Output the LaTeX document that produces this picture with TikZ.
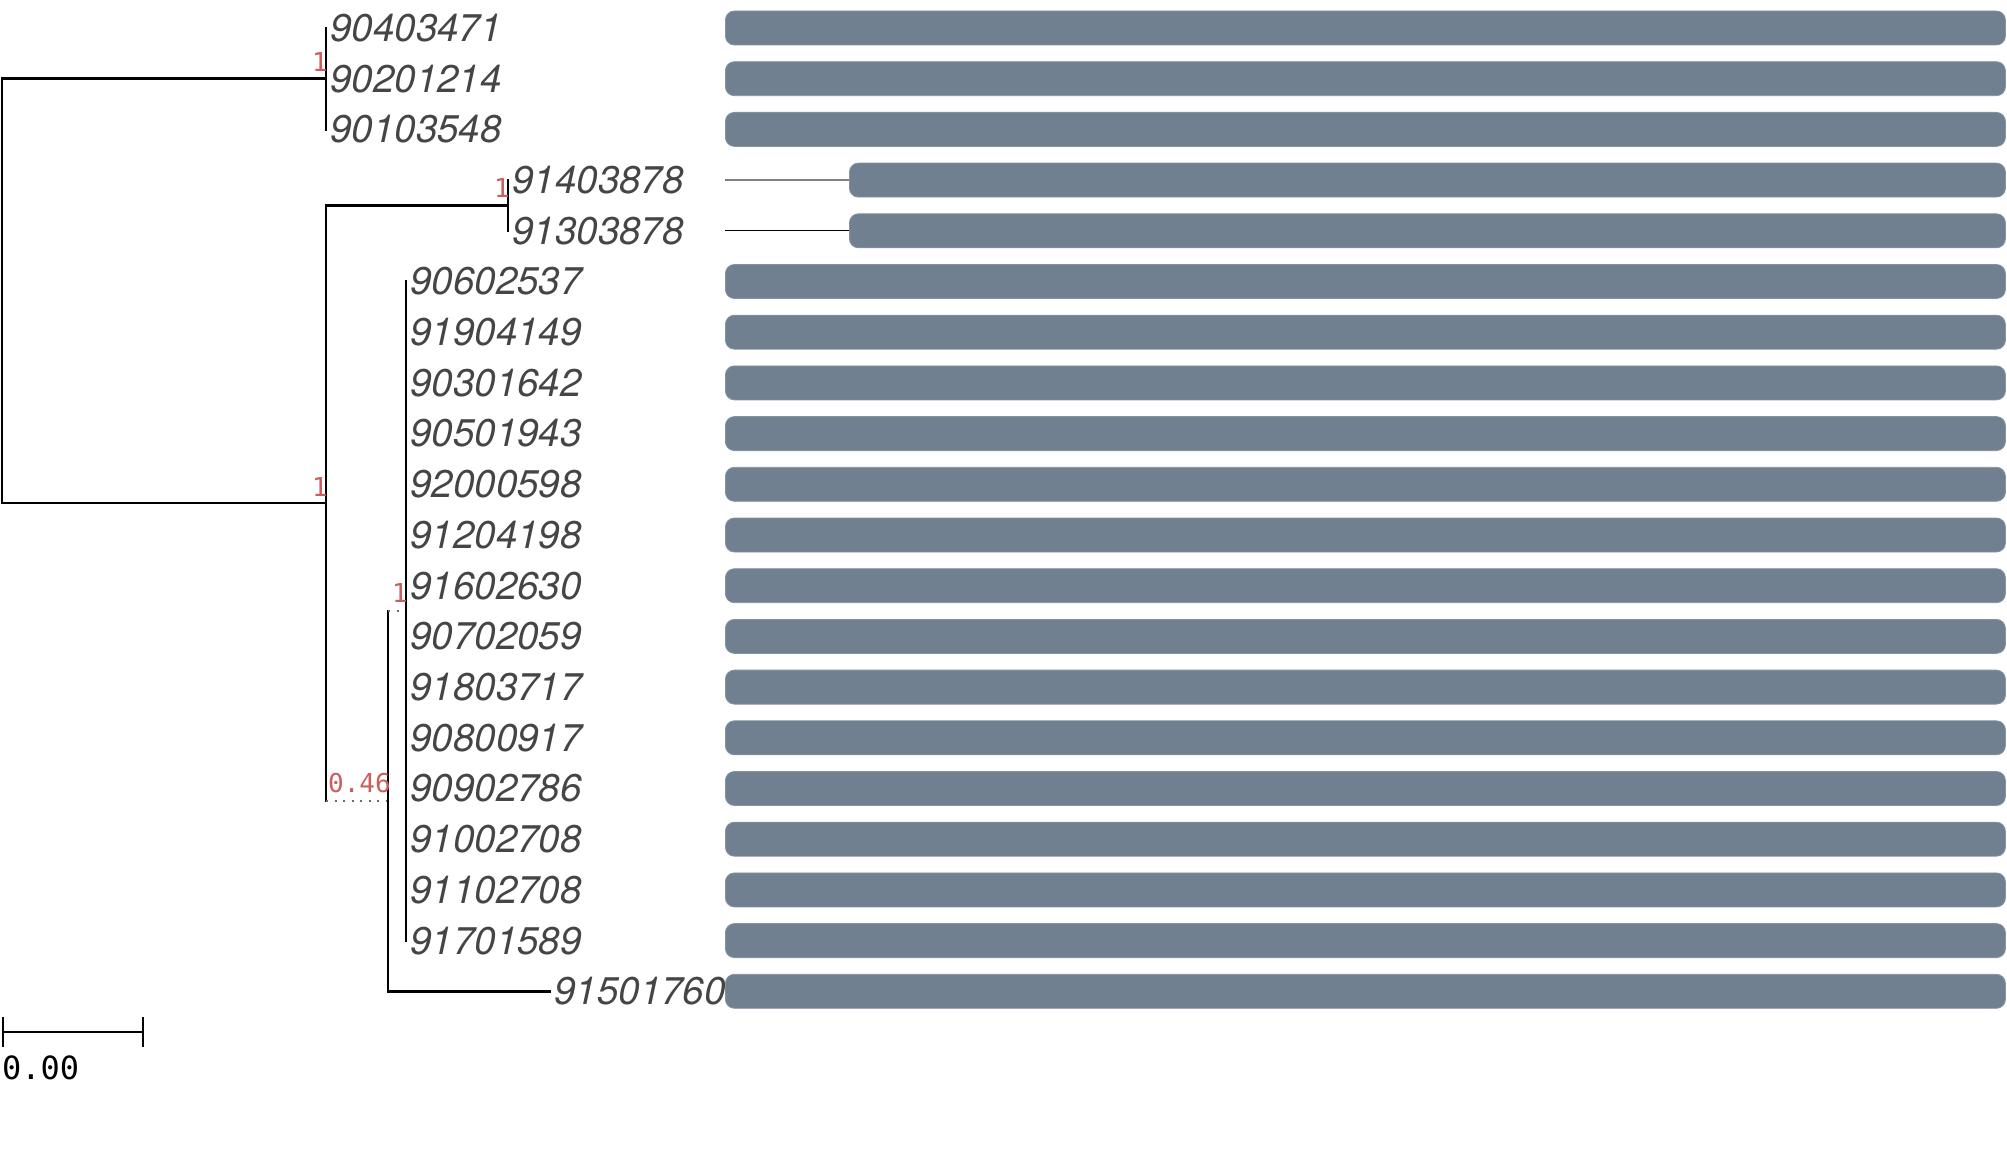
\documentclass[tikz,border=0pt]{standalone}
\usepackage{fontspec}
\setmainfont{TeX Gyre Heros}
\newfontfamily\monof{DejaVu Sans Mono}
\usetikzlibrary{calc}
\definecolor{bargray}{HTML}{708090}
\definecolor{lbl}{HTML}{454545}
\definecolor{suppred}{HTML}{CD5C5C}
\begin{document}
\begin{tikzpicture}[x=1pt,y=-1pt,
  branch/.style={line width=2.8pt, black, line cap=rect},
  dotbranch/.style={line width=2.2pt, gray!85!black, dash pattern=on 2pt off 6.5pt},
  leaf/.style={anchor=west, inner sep=0pt, text=lbl, font=\fontsize{38.6}{40}\selectfont\itshape},
  bar/.style={anchor=west, fill=bargray, draw=bargray!85!white, line width=0.8pt, rounded corners=9pt, minimum height=34pt, inner sep=0pt},
  supp/.style={anchor=south east, inner sep=0pt, text=suppred, font=\monof\fontsize{26}{27}\selectfont},
  thin/.style={line width=1.4pt},
  scalebar/.style={line width=2.4pt, black},
  ]
\useasboundingbox (0,0) rectangle (2007,1158);

% leaf labels
\foreach \i/\x/\t in {0/326/90403471, 1/326/90201214, 2/326/90103548,
  3/508/91403878, 4/508/91303878,
  5/406/90602537, 6/406/91904149, 7/406/90301642, 8/406/90501943,
  9/406/92000598, 10/406/91204198, 11/406/91602630, 12/406/90702059,
  13/406/91803717, 14/406/90800917, 15/406/90902786, 16/406/91002708,
  17/406/91102708, 18/406/91701589, 19/550/91501760}
  {\node[leaf] (l\i) at (\x+4, 28+50.7*\i) {\t};}

% bars
\foreach \i in {0,1,2,5,6,7,8,9,10,11,12,13,14,15,16,17,18,19}
  {\node[bar, minimum width=1280pt] (b\i) at (725, 28+50.7*\i) {};}
\foreach \i in {3,4}
  {\node[bar, minimum width=1156pt] (b\i) at (849, 28+50.7*\i) {};
   \coordinate (t\i) at (725, 28+50.7*\i);}
\draw[thin, gray] (t3) -- (b3.west);
\draw[thin, black] (t4) -- (b4.west);

% internal nodes
\coordinate (root) at (2, 291);
\coordinate (c1) at (326, 78.7);
\coordinate (nA) at (326, 503);
\coordinate (c2) at (508, 205.5);
\coordinate (nB) at (388, 801);
\coordinate (nC) at (406, 611);
\coordinate (e19) at (550, 991.3);

% tree
\draw[branch] (c1) -- (root |- c1) -- (root |- nA) -- (nA);
\draw[branch] (c1 |- l0) -- (c1 |- l2);
\draw[branch] (c2) -- (nA |- c2) -- (nA |- nB);
\draw[branch] (c2 |- l3) -- (c2 |- l4);
\draw[dotbranch] (nA |- nB) -- (nB);
\draw[branch] (nB |- nC) -- (nB |- e19) -- (e19);
\draw[dotbranch] (nB |- nC) -- (nC);
\draw[branch] (nC |- l5) -- (nC |- l18);

% support values
\node[supp] (s1) at ($(c1)+(2,-7)$) {1};
\node[supp] (s2) at ($(c2)+(2,-8)$) {1};
\node[supp] (s3) at ($(nA)+(2,-6)$) {1};
\node[supp] (s4) at ($(nC)+(2,-8)$) {1};
\node[supp] (s5) at ($(nB)+(3,-8)$) {0.46};

% scale bar
\coordinate (sb1) at (2.7,1032);
\coordinate (sb2) at (143,1032);
\draw[scalebar] (sb1) -- (sb2);
\draw[scalebar] ($(sb1)+(0,-15)$) -- ($(sb1)+(0,15)$);
\draw[scalebar] ($(sb2)+(0,-15)$) -- ($(sb2)+(0,15)$);
\node[anchor=north west, inner sep=0pt, font=\monof\fontsize{32}{34}\selectfont] (sbl) at (2,1056) {0.00};
\end{tikzpicture}
\end{document}
